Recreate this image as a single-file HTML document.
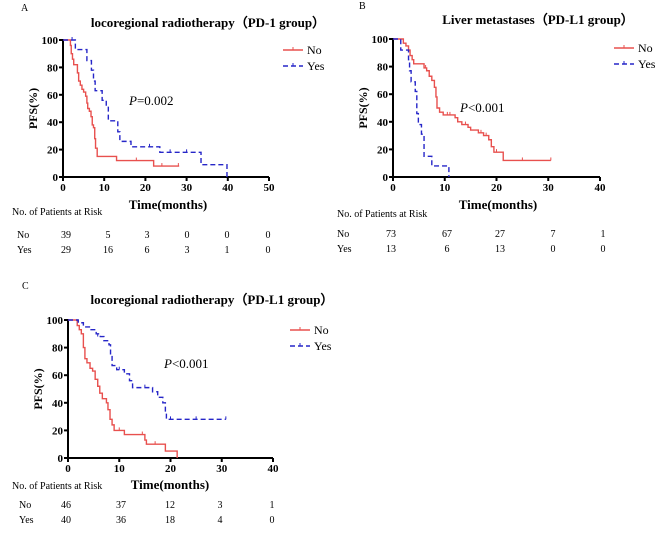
<!DOCTYPE html>
<html><head><meta charset="utf-8"><style>
html,body{margin:0;padding:0;background:#fff;}
svg{display:block;}
text{font-family:"Liberation Serif",serif;}
</style></head><body>
<svg id="fig" width="669" height="533" viewBox="0 0 669 533" xmlns="http://www.w3.org/2000/svg"></svg>
<script>
// Panel A data (PD-1 group, locoregional radiotherapy)
const aNoSteps = [[0,100],[1.8,96],[2,90],[2.3,86],[2.6,82],[3.5,76],[3.8,70],[4.2,67],[4.6,64],[5,62],[5.5,59],[5.8,54],[6,50],[6.4,48],[6.8,44],[7.1,38],[7.4,36],[7.7,28],[7.9,21],[8.3,15],[13,12],[22,8],[28.2,8]];
const aNoCens = [[17.8,12],[24,8],[28,8]];
const aYesSteps = [[0,100],[3,93],[5.8,85],[6.9,78],[7.4,70],[7.8,63],[9.5,56],[10.5,52],[11,41],[13.3,33],[13.8,26],[16.5,22],[23.5,18],[33.5,9],[39.8,0]];
const aYesCens = [[2.2,100],[21,22],[26,18],[30,18]];
const aRiskNo = ["39","5","3","0","0","0"];
const aRiskYes = ["29","16","6","3","1","0"];
const aXTicks = [0,10,20,30,40,50];
// Panel B data (PD-L1 group, liver metastases)
const bNoSteps = [[0,100],[2,97],[2.5,95],[3,92],[3.3,88],[3.7,85],[4,82],[6,79],[6.5,77],[7,73],[7.5,70],[8,65],[8.3,58],[8.5,50],[9,47],[9.7,45],[12,43],[12.5,40],[13.3,38],[14.5,36],[15,34],[16.5,32],[17.5,30],[18.5,27],[19,22],[19.5,18],[21.3,12],[30.5,12]];
const bNoCens = [[6.3,79],[10.5,45],[11,45],[14,38],[17,32],[18,30],[20,18],[25,12],[30.5,12]];
const bYesSteps = [[0,100],[1.5,92],[3,85],[3.2,77],[3.5,69],[4.3,62],[4.6,46],[4.9,38],[5.5,31],[6,15],[7.5,8],[10.8,0]];
const bYesCens = [];
const bRiskNo = ["73","67","27","7","1"];
const bRiskYes = ["13","6","13","0","0"];
const bXTicks = [0,10,20,30,40];
// Panel C data (PD-L1 group, locoregional radiotherapy)
const cNoSteps = [[0,100],[1.8,96],[2.2,93],[2.6,90],[3,80],[3.3,72],[3.7,69],[4.3,65],[4.8,63],[5.3,57],[5.8,52],[6.2,47],[6.7,43],[7.5,40],[7.8,35],[8.2,28],[8.6,24],[9,20],[11,17],[15,13],[15.3,10],[19,5],[21.3,0]];
const cNoCens = [[10,20],[14.5,17],[17,10]];
const cYesSteps = [[0,100],[2,98],[3,95],[4.5,93],[5.5,90],[6.3,88],[7,85],[8,82],[8.3,75],[8.6,67],[9.5,64],[11,61],[12,56],[12.6,51],[16.5,48],[17.5,44],[18.5,40],[19,33],[19.2,28],[30.8,28]];
const cYesCens = [[5.8,88],[10,64],[15,51],[20,28],[25,28],[30.8,28]];
const cRiskNo = ["46","37","12","3","1"];
const cRiskYes = ["40","36","18","4","0"];
const cXTicks = [0,10,20,30,40];
const yTicks = [0,20,40,60,80,100];

const NS="http://www.w3.org/2000/svg";
const svg=document.getElementById('fig');
function mk(tag,attrs,parent){const e=document.createElementNS(NS,tag);for(const k in attrs)e.setAttribute(k,attrs[k]);(parent||svg).appendChild(e);return e;}
function txt(s,x,y,attrs,parent){const t=mk('text',Object.assign({x:x,y:y},attrs),parent);t.textContent=s;return t;}
const RED="#e8504e", BLUE="#2626c8";

function panel(o){
  const g=mk('g',{});
  
  
  const sx=v=>o.x0+(v-0)/(o.xmax)*(o.x1-o.x0);
  const sy=v=>o.y0-(v/100)*(o.y0-o.y1);
  const L=txt(o.letter,o.lx,o.ly,{'font-size':10},g);
  
  
  const T=txt(o.title,o.tx,o.ty,{'font-size':13,'font-weight':'bold','text-anchor':'middle'},g);
  
  
  const ax=mk('path',{d:`M${o.x0},${o.y1-1}V${o.y0}H${o.x1}`,stroke:'#000','stroke-width':2,fill:'none'},g);
  
  
  yTicks.forEach(v=>{
    mk('line',{x1:o.x0-4,x2:o.x0,y1:sy(v),y2:sy(v),stroke:'#000','stroke-width':2},g);
    const t=txt(String(v),o.x0-5,sy(v)+4,{'font-size':11,'font-weight':'bold','text-anchor':'end'},g);
    
    
  });
  o.xt.forEach(v=>{
    mk('line',{x1:sx(v),x2:sx(v),y1:o.y0,y2:o.y0+4,stroke:'#000','stroke-width':2},g);
    const t=txt(String(v),sx(v),o.y0+14,{'font-size':11,'font-weight':'bold','text-anchor':'middle'},g);
    
    
  });
  const yl=txt('PFS(%)',0,0,{'font-size':12,'font-weight':'bold','text-anchor':'middle',transform:`translate(${o.x0-26},${(o.y0+o.y1)/2}) rotate(-90)`},g);
  
  
  const xl=txt('Time(months)',o.xlx,o.xly,{'font-size':13,'font-weight':'bold','text-anchor':'middle'},g);
  
  
  function series(steps,cens,color,dash,name){
    let d=`M${sx(steps[0][0])},${sy(steps[0][1])}`;
    for(let i=1;i<steps.length;i++){d+=`H${sx(steps[i][0])}V${sy(steps[i][1])}`;}
    const p=mk('path',{d:d,stroke:color,'stroke-width':1.4,fill:'none','stroke-dasharray':dash},g);
    
    
    cens.forEach(c=>{
      const m=mk('line',{x1:sx(c[0]),x2:sx(c[0]),y1:sy(c[1])-3,y2:sy(c[1]),stroke:color,'stroke-width':1},g);
      
      
    });
  }
  series(o.noS,o.noC,RED,'none','series-no');
  series(o.yesS,o.yesC,BLUE,'5,3','series-yes');
  [[RED,'none','No',o.legY],[BLUE,'5,3','Yes',o.legY+16]].forEach(l=>{
    const lg=mk('g',{},g);
    
    
    mk('line',{x1:o.legX,x2:o.legX+20,y1:l[3],y2:l[3],stroke:l[0],'stroke-width':1.4,'stroke-dasharray':l[1]},lg);
    mk('line',{x1:o.legX+10,x2:o.legX+10,y1:l[3]-3,y2:l[3],stroke:l[0],'stroke-width':1},lg);
    txt(l[2],o.legX+24,l[3]+4,{'font-size':12},lg);
  });
  const pv=mk('text',{x:o.px,y:o.py,'font-size':13},g);
  
  
  const pi=mk('tspan',{'font-style':'italic'},pv);pi.textContent='P';
  const pr=mk('tspan',{},pv);pr.textContent=o.pv;
  const rh=txt('No. of Patients at Risk',o.rhx,o.rhy,{'font-size':10},g);
  
  
  [['No',o.rNo,o.r1y],['Yes',o.rYes,o.r2y]].forEach(r=>{
    const t=txt(r[0],o.rlx,r[2],{'font-size':10},g);
    
    
    r[1].forEach((v,i)=>{
      const c=txt(v,o.rcx[i],r[2],{'font-size':10,'text-anchor':'middle'},g);
      
      
    });
  });
}

panel({name:'panel-a',letter:'A',lx:21,ly:11,title:'locoregional radiotherapy（PD-1 group）',tx:208,ty:27,
  x0:63,x1:269,xmax:50,y0:177,y1:40,xt:aXTicks,xlx:168,xly:209,
  noS:aNoSteps,noC:aNoCens,yesS:aYesSteps,yesC:aYesCens,legX:283,legY:50,px:129,py:105,pv:'=0.002',
  rhx:12,rhy:215,rlx:17,r1y:238,r2y:253,rNo:aRiskNo,rYes:aRiskYes,rcx:[66,108,147,187,227,268]});
panel({name:'panel-b',letter:'B',lx:359,ly:9,title:'Liver metastases（PD-L1 group）',tx:538,ty:24,
  x0:393,x1:600,xmax:40,y0:177,y1:39,xt:bXTicks,xlx:498,xly:209,
  noS:bNoSteps,noC:bNoCens,yesS:bYesSteps,yesC:bYesCens,legX:614,legY:48,px:460,py:112,pv:'<0.001',
  rhx:337,rhy:217,rlx:337,r1y:237,r2y:252,rNo:bRiskNo,rYes:bRiskYes,rcx:[391,447,500,553,603]});
panel({name:'panel-c',letter:'C',lx:22,ly:289,title:'locoregional radiotherapy（PD-L1 group）',tx:212,ty:304,
  x0:68,x1:273,xmax:40,y0:458,y1:320,xt:cXTicks,xlx:170,xly:489,
  noS:cNoSteps,noC:cNoCens,yesS:cYesSteps,yesC:cYesCens,legX:290,legY:330,px:164,py:368,pv:'<0.001',
  rhx:12,rhy:489,rlx:19,r1y:508,r2y:523,rNo:cRiskNo,rYes:cRiskYes,rcx:[66,121,170,220,272]});
</script>
</body></html>
